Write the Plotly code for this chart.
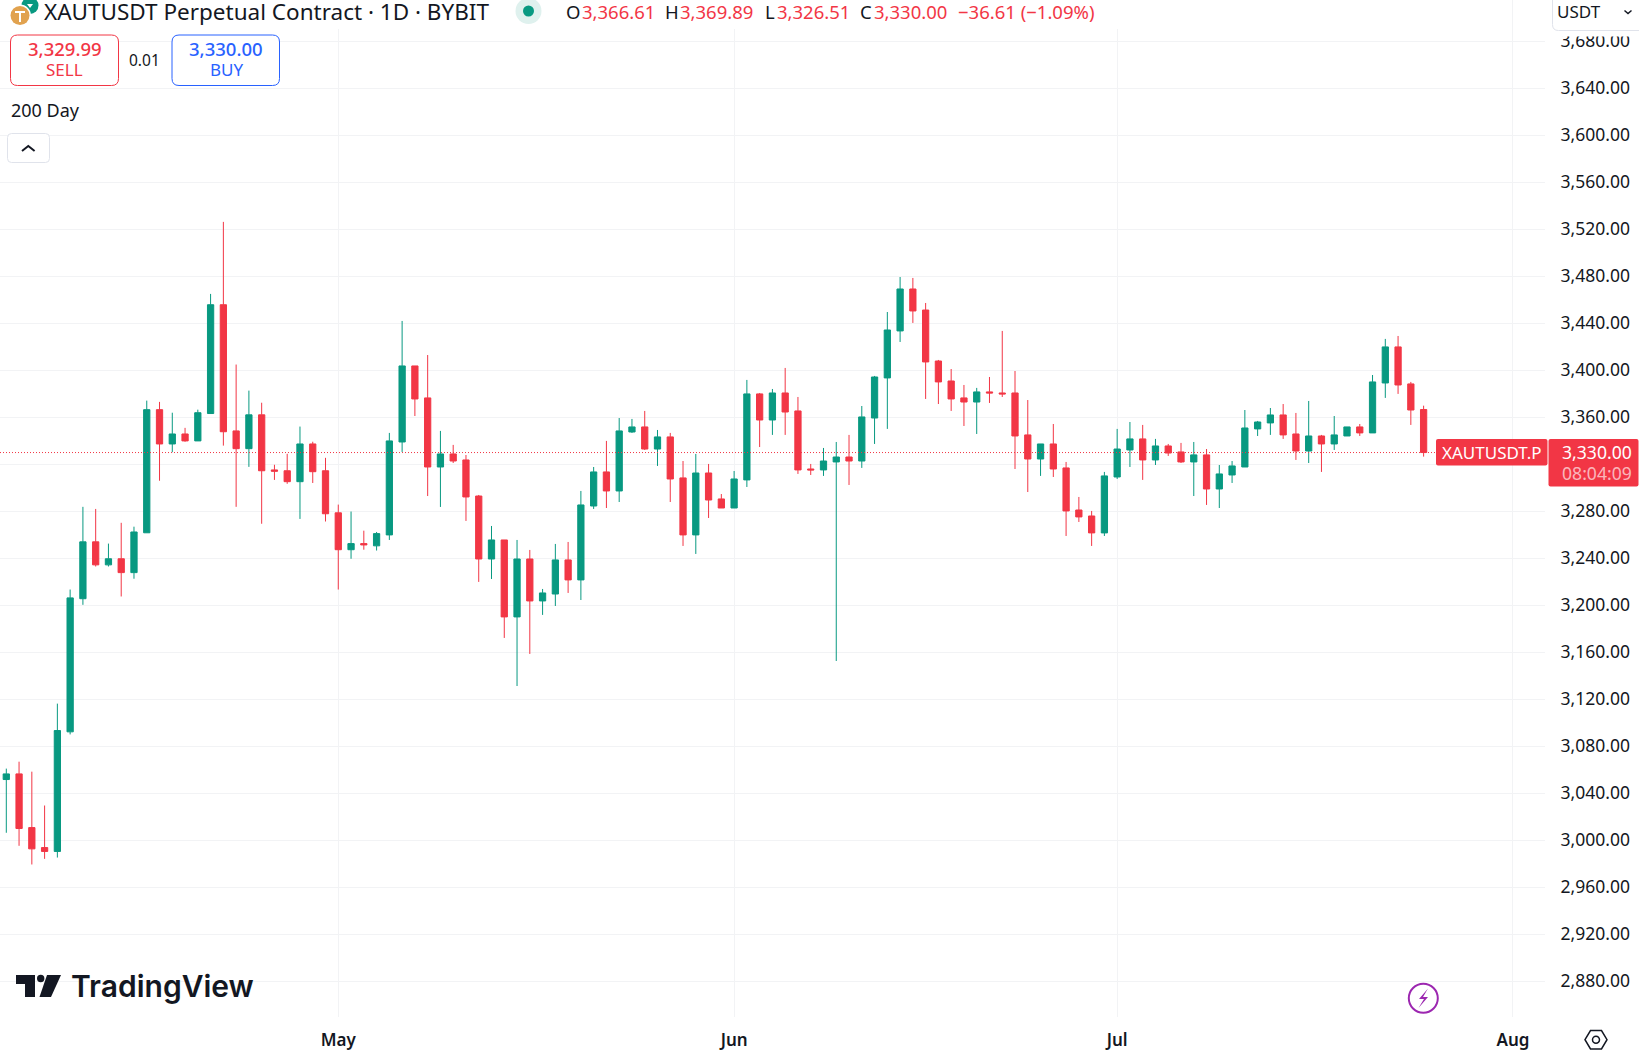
import pandas as pd
import plotly.graph_objects as go

# daily candles, Apr 5 -> Jul 25
opens = [3051.7, 3056.5, 3010.8, 2993.8, 2990.5, 3092.3, 3205.6, 3254.0, 3234.4, 3239.6,
         3227.8, 3261.7, 3366.5, 3337.3, 3345.8, 3339.9, 3363.2, 3455.8, 3348.4, 3333.3,
         3362.1, 3315.2, 3314.5, 3305.2, 3337.3, 3314.5, 3278.7, 3247.3, 3252.5, 3250.6,
         3259.9, 3339.0, 3403.7, 3376.5, 3317.7, 3328.8, 3323.7, 3293.0, 3239.4, 3255.6,
         3190.1, 3239.4, 3203.7, 3209.6, 3238.6, 3221.6, 3284.5, 3313.5, 3297.3, 3347.5,
         3351.8, 3333.0, 3343.3, 3308.4, 3259.9, 3312.6, 3290.5, 3282.8, 3306.7, 3379.9,
         3357.7, 3380.7, 3365.4, 3316.0, 3315.2, 3322.0, 3326.2, 3322.8, 3359.4, 3393.5,
         3433.5, 3469.2, 3451.3, 3407.9, 3390.9, 3376.5, 3373.0, 3381.6, 3380.7, 3380.7,
         3345.0, 3324.5, 3337.3, 3316.9, 3281.1, 3276.0, 3261.6, 3309.2, 3332.2, 3341.6,
         3323.7, 3335.6, 3330.5, 3322.0, 3328.0, 3299.0, 3310.9, 3317.7, 3350.1, 3355.2,
         3362.0, 3345.8, 3331.3, 3344.1, 3337.3, 3344.1, 3351.8, 3346.7, 3389.2, 3419.9,
         3388.4, 3366.61]
highs = [3061.0, 3066.9, 3058.4, 3029.6, 3116.3, 3213.4, 3283.8, 3282.0, 3252.5, 3270.2,
         3266.9, 3374.2, 3373.1, 3363.9, 3351.0, 3366.5, 3465.0, 3526.3, 3404.9, 3382.7,
         3372.4, 3319.6, 3328.9, 3352.1, 3339.2, 3325.5, 3285.7, 3279.8, 3263.5, 3262.4,
         3346.7, 3442.0, 3403.7, 3413.0, 3348.4, 3336.5, 3327.9, 3293.9, 3267.5, 3255.6,
         3255.6, 3247.1, 3213.9, 3252.2, 3253.9, 3297.3, 3317.7, 3339.9, 3359.4, 3358.6,
         3365.4, 3349.2, 3346.7, 3322.8, 3328.8, 3320.3, 3294.7, 3314.3, 3391.8, 3380.7,
         3384.1, 3402.0, 3377.3, 3320.3, 3333.9, 3339.0, 3345.0, 3369.6, 3395.2, 3449.6,
         3479.4, 3478.6, 3457.3, 3408.8, 3401.1, 3387.5, 3385.0, 3394.3, 3433.5, 3399.4,
         3374.7, 3337.3, 3354.3, 3322.0, 3292.2, 3280.3, 3313.5, 3350.1, 3356.0, 3353.5,
         3341.6, 3337.3, 3338.2, 3339.0, 3333.0, 3319.4, 3322.8, 3366.2, 3356.9, 3367.9,
         3371.3, 3363.7, 3373.9, 3345.0, 3361.1, 3351.8, 3354.3, 3396.0, 3426.7, 3429.2,
         3390.1, 3369.89]
lows = [3006.4, 2995.3, 2979.4, 2984.2, 2985.3, 3090.1, 3200.4, 3233.0, 3233.0, 3207.5,
        3222.6, 3261.7, 3306.0, 3330.3, 3339.2, 3339.9, 3363.2, 3335.9, 3283.8, 3317.8,
        3269.4, 3306.7, 3303.4, 3273.5, 3304.1, 3271.3, 3213.4, 3239.6, 3247.3, 3246.6,
        3255.6, 3330.5, 3361.1, 3293.0, 3283.7, 3321.1, 3271.8, 3219.9, 3222.4, 3172.2,
        3131.3, 3158.6, 3191.8, 3199.4, 3210.5, 3204.5, 3282.0, 3282.8, 3287.9, 3346.7,
        3332.2, 3318.6, 3287.9, 3250.5, 3243.7, 3274.3, 3282.8, 3282.8, 3300.7, 3334.7,
        3345.0, 3345.0, 3311.8, 3310.9, 3310.1, 3152.6, 3302.4, 3316.9, 3337.3, 3350.1,
        3424.1, 3440.3, 3375.6, 3371.3, 3365.4, 3352.6, 3345.8, 3372.2, 3377.3, 3316.0,
        3296.4, 3310.1, 3309.2, 3259.0, 3270.9, 3250.5, 3259.0, 3307.5, 3317.7, 3306.7,
        3319.4, 3327.1, 3321.1, 3293.0, 3285.4, 3282.8, 3304.1, 3317.7, 3344.1, 3345.0,
        3341.6, 3323.7, 3321.1, 3313.5, 3332.2, 3344.1, 3344.1, 3346.7, 3376.5, 3379.9,
        3353.5, 3326.51]
closes = [3056.5, 3010.0, 2992.7, 2990.5, 3093.4, 3206.3, 3254.0, 3234.4, 3239.6, 3227.8,
          3262.4, 3366.5, 3337.3, 3345.8, 3339.9, 3363.9, 3455.8, 3347.7, 3333.3, 3362.1,
          3314.5, 3314.1, 3305.2, 3337.3, 3313.7, 3277.9, 3247.3, 3252.5, 3251.4, 3261.0,
          3339.9, 3403.7, 3375.6, 3317.7, 3328.8, 3322.8, 3292.2, 3239.4, 3255.6, 3190.1,
          3239.4, 3203.7, 3210.5, 3238.6, 3221.6, 3285.4, 3313.5, 3297.3, 3348.4, 3351.8,
          3333.0, 3343.3, 3307.5, 3259.9, 3312.6, 3289.6, 3282.8, 3307.5, 3379.9, 3357.7,
          3380.7, 3364.5, 3315.2, 3315.2, 3322.8, 3326.2, 3322.8, 3360.3, 3394.3, 3434.3,
          3469.2, 3450.5, 3407.1, 3390.1, 3375.6, 3373.0, 3381.6, 3380.7, 3379.9, 3344.1,
          3324.5, 3337.3, 3316.0, 3280.3, 3275.2, 3261.6, 3310.1, 3333.0, 3341.6, 3323.7,
          3335.6, 3329.6, 3322.0, 3328.0, 3299.0, 3311.8, 3318.6, 3350.9, 3356.0, 3362.0,
          3345.0, 3331.3, 3344.1, 3337.3, 3345.0, 3351.8, 3346.7, 3390.1, 3419.9, 3387.5,
          3366.2, 3330.00]
dates = pd.date_range("2025-04-05", periods=len(closes), freq="D")

price_ticks = list(range(2880, 3681, 40))
month_ticks = ["2025-05-01", "2025-06-01", "2025-07-01", "2025-08-01"]
month_labels = ["May", "Jun", "Jul", "Aug"]

legend_names = ["O", "H", "L", "C"]
legend_values = ["3,366.61", "3,369.89", "3,326.51", "3,330.00"]

GREEN = "#089981"
RED = "#f23645"
BLUE = "#2962ff"
INK = "#131722"
GRID = "#f2f3f5"
FONT = "Noto Sans"

W, H = 1639, 1056
PLOT_W, PLOT_H = 1545, 1017


def px(x):
    return x / PLOT_W


def py(y):
    return 1 - y / PLOT_H


def poly(points, close=True):
    d = "M " + " L ".join(f"{px(x)} {py(y)}" for x, y in points)
    return d + (" Z" if close else "")


def rrect(x0, y0, x1, y1, r):
    # rounded box in pixels
    return (f"M {px(x0 + r)} {py(y0)} L {px(x1 - r)} {py(y0)} Q {px(x1)} {py(y0)} {px(x1)} {py(y0 + r)} "
            f"L {px(x1)} {py(y1 - r)} Q {px(x1)} {py(y1)} {px(x1 - r)} {py(y1)} "
            f"L {px(x0 + r)} {py(y1)} Q {px(x0)} {py(y1)} {px(x0)} {py(y1 - r)} "
            f"L {px(x0)} {py(y0 + r)} Q {px(x0)} {py(y0)} {px(x0 + r)} {py(y0)} Z")


fig = go.Figure(go.Candlestick(
    x=dates, open=opens, high=highs, low=lows, close=closes,
    increasing=dict(line=dict(color=GREEN, width=1), fillcolor=GREEN),
    decreasing=dict(line=dict(color=RED, width=1), fillcolor=RED),
    whiskerwidth=0,
    hoverinfo="skip",
))

fig.update_layout(
    width=W, height=H,
    margin=dict(l=0, r=W - PLOT_W, t=0, b=H - PLOT_H),
    paper_bgcolor="white", plot_bgcolor="white",
    showlegend=False,
    boxgap=0.3,
    font=dict(family=FONT, color=INK),
)
fig.update_xaxes(
    type="date", rangeslider_visible=False,
    range=["2025-04-04 12:10", "2025-08-03 12:10"],
    tickmode="array", tickvals=month_ticks, ticktext=month_labels,
    tickfont=dict(size=17, color=INK, weight=600),
    showgrid=True, gridcolor=GRID, gridwidth=1, zeroline=False, showline=False,
    ticks="outside", ticklen=8, tickcolor="rgba(0,0,0,0)",
)
# the 3,320 label sits under the price tag in the reference
fig.update_yaxes(
    side="right", range=[2849.6, 3715.15],
    tickmode="array", tickvals=price_ticks,
    ticktext=["" if v == 3320 else f"{v:,.2f}" for v in price_ticks],
    tickfont=dict(size=17.5, color=INK),
    showgrid=True, gridcolor=GRID, gridwidth=1, zeroline=False, showline=False,
    ticks="outside", ticklen=11, tickcolor="rgba(0,0,0,0)",
)

# last price line
fig.add_shape(type="line", xref="paper", x0=0, x1=1, yref="y", y0=closes[-1], y1=closes[-1],
              line=dict(color=RED, width=1, dash="1px,2px"))


def box(path, fill="white", line=None, width=1):
    fig.add_shape(type="path", xref="paper", yref="paper", path=path, fillcolor=fill,
                  line=dict(color=line if line else "rgba(0,0,0,0)", width=width if line else 0))


def circle(cx, cy, r, fill, line=None, width=0):
    fig.add_shape(type="circle", xref="paper", yref="paper",
                  x0=px(cx - r), x1=px(cx + r), y0=py(cy - r), y1=py(cy + r), fillcolor=fill,
                  line=dict(color=line if line else "rgba(0,0,0,0)", width=width))


def label(x, y, text, size=17, color=INK, anchor="left", weight=400, family=FONT):
    # annotations carry about 1.5px of padding on their sides
    nudge = {"left": -1.5, "right": 1.5, "center": 0}[anchor]
    fig.add_annotation(xref="paper", yref="paper", x=px(x + nudge), y=py(y), text=text, showarrow=False,
                       xanchor=anchor, yanchor="middle", borderpad=0,
                       font=dict(size=size, color=color, weight=weight, family=family))


# header strip hides the grid behind the title
box(poly([(0, 0), (1170, 0), (1170, 29), (0, 29)]))

# symbol icons
circle(30, 5.5, 8.5, GREEN)
box(poly([(27, 4), (33, 4), (30, 8)]), fill="white")
circle(20, 15.5, 11, "white")
circle(20, 15.5, 9.5, "#e1a24f")
box(poly([(15, 11), (25, 11), (25, 13), (21, 13), (21, 22), (19, 22), (19, 13), (15, 13)]), fill="white")
label(44, 12, "XAUTUSDT Perpetual Contract · 1D · BYBIT", size=22.5)
circle(528.5, 11, 13, "#dff1ee")
circle(528.5, 11, 5.5, GREEN)

for name, value, nx, vx in zip(legend_names, legend_values, [566, 665.5, 765, 860.5], [582, 680, 777, 874]):
    label(nx, 12, name, size=18.5)
    label(vx, 12, value, size=18.5, color=RED)
label(958, 12, "−36.61 (−1.09%)", size=18.5, color=RED)

# sell / buy
box(rrect(10.5, 35, 118.5, 85.5, 7), line=RED)
box(rrect(172, 35, 279.5, 85.5, 7), line=BLUE)
label(64.5, 49, "3,329.99", size=18.5, color=RED, anchor="center", weight=500)
label(64.5, 69.5, "SELL", size=17, color=RED, anchor="center")
label(226, 49, "3,330.00", size=18.5, color=BLUE, anchor="center", weight=500)
label(226, 69.5, "BUY", size=17, color=BLUE, anchor="center")
label(144.5, 60, "0.01", size=15.5, anchor="center")
label(11.5, 110, "200 Day", size=18)

# collapse button
box(rrect(7.5, 133.5, 49.5, 162.5, 4), line="#e0e3eb")
box(poly([(22, 151), (28.3, 146), (34.6, 151)], close=False), fill="rgba(0,0,0,0)", line=INK, width=2)

# currency button, covers the top of the 3,680 label
box(poly([(1552, 30), (1639, 30), (1639, 36.5), (1552, 36.5)]))
box(rrect(1552.5, -8, 1646, 30.5, 6), line="#e0e3eb")
label(1557, 12, "USDT", size=17)
box(poly([(1624.5, 10.5), (1628, 13.5), (1631.5, 10.5)], close=False), fill="rgba(0,0,0,0)", line=INK, width=1.5)

# last price tags
box(rrect(1436, 439, 1547.5, 465.5, 2), fill=RED)
box(rrect(1548.5, 439, 1638.5, 486.5, 2), fill=RED)
label(1492, 452, "XAUTUSDT.P", size=17, color="white", anchor="center")
label(1631, 452, "3,330.00", size=17.6, color="white", anchor="right")
label(1631, 473, "08:04:09", size=17.6, color="rgba(255,255,255,0.65)", anchor="right")

# watermark
box(poly([(16, 975), (35, 975), (35, 997), (25, 997), (25, 984), (16, 984)]), fill=INK)
circle(40.7, 978.5, 3.7, INK)
box(poly([(47, 975), (61, 975), (51, 997), (39.5, 997)]), fill=INK)
label(71, 986, "TradingView", size=30, weight=600, family="Inter")

# bolt badge
circle(1423.3, 998.3, 14.5, "white", line="#9c27b0", width=2)
box(poly([(1428, 988.5), (1419, 999), (1424, 999), (1418.5, 1008), (1428, 997), (1423, 997)]), fill="#9c27b0")

# settings hexagon
box(poly([(1585, 1039.7), (1590.5, 1030.5), (1601.5, 1030.5), (1607, 1039.7), (1601.5, 1049), (1590.5, 1049)]),
    line=INK, width=1.5)
circle(1596, 1039.7, 3.5, "white", line=INK, width=1.5)

fig.write_html("out.html", config={"displayModeBar": False}, post_script="document.body.style.margin='0';")
